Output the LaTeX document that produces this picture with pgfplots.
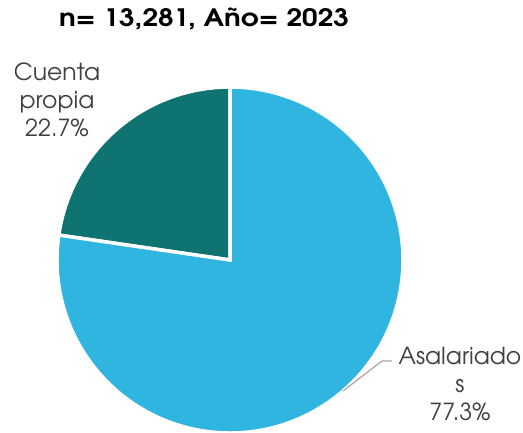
\documentclass[border=0pt]{standalone}
\usepackage{fontspec}
\setmainfont{texgyreadventor}[Extension=.otf, UprightFont=*-regular, BoldFont=*-bold]
\usepackage{pgfplots}
\usepackage{pgfplotstable}
\pgfplotsset{compat=1.18}
\definecolor{asal}{HTML}{2FB5E0}
\definecolor{cuenta}{HTML}{0E7371}
\definecolor{lbl}{HTML}{404040}
\definecolor{leader}{HTML}{A6A6A6}

% share of workers, 2023 (n = 13,281)
\pgfplotstableread{
cat value
Asalariados 77.3
Cuentapropia 22.7
}\piedata

\begin{document}
\begin{tikzpicture}
\pgfplotstablegetelem{0}{value}\of\piedata \let\vAsal\pgfplotsretval
\pgfplotstablegetelem{1}{value}\of\piedata \let\vCuenta\pgfplotsretval
\pgfmathsetmacro{\aEnd}{90+3.6*\vCuenta}
\begin{axis}[
    scale only axis,
    width=523pt, height=432pt,
    xmin=0, xmax=523, ymin=0, ymax=432,
    hide axis, clip=false,
]
% slices (centre 230,172 ; radius 173)
\fill[cuenta, draw=white, line width=3.5pt, line join=miter]
  (axis cs:230,172) -- ++(90:173pt) arc[start angle=90, end angle=\aEnd, radius=173pt] -- cycle;
\fill[asal, draw=white, line width=3.5pt, line join=miter]
  (axis cs:230,172) -- ++(\aEnd:173pt) arc[start angle=\aEnd, end angle=450, radius=173pt] -- cycle;
% leader line
\draw[leader, line width=1.2pt] (axis cs:343,41) -- (axis cs:382,71) -- (axis cs:392,71);
% labels
\node[lbl, font=\fontsize{23.5}{28}\selectfont, align=center] at (axis cs:57,332)
  {Cuenta\\propia\\\pgfmathprintnumber[fixed,precision=1,assume math mode=true]{\vCuenta}\%};
\node[lbl, font=\fontsize{23.5}{28}\selectfont, align=center] at (axis cs:460,48)
  {Asalariado\\s\\\pgfmathprintnumber[fixed,precision=1,assume math mode=true]{\vAsal}\%};
\node[black, font=\fontsize{24}{28}\selectfont\bfseries] at (axis cs:204,413)
  {\scalebox{1.16}[1]{n= 13,281, Año= 2023}};
\end{axis}
\pgfresetboundingbox
\path[use as bounding box] (0,0) rectangle (523pt,432pt);
\end{tikzpicture}
\end{document}
